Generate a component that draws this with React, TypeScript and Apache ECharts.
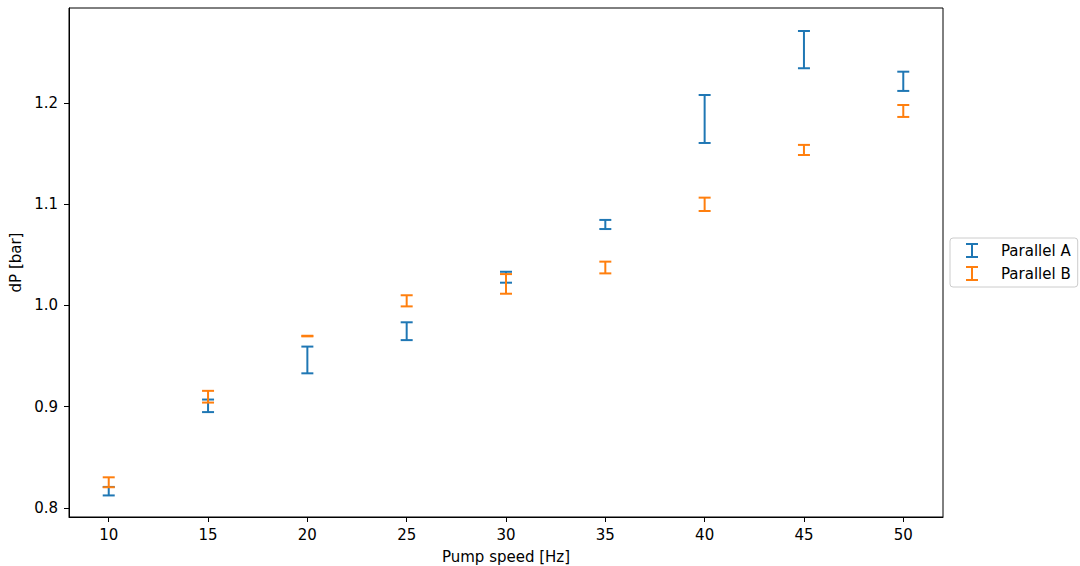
import React, { useEffect, useRef } from "react";
import * as echarts from "echarts";

// Pump speed settings [Hz]
const speeds = [10, 15, 20, 25, 30, 35, 40, 45, 50];

// Mean pressure drop [bar] and half-width of the error bar for each run
const parallelAMean = [0.8166, 0.9009, 0.9462, 0.9746, 1.0279, 1.08, 1.1842, 1.2527, 1.2214];
const parallelAErr = [0.0042, 0.0062, 0.0132, 0.0088, 0.0054, 0.0045, 0.0237, 0.0184, 0.0095];

const parallelBMean = [0.8254, 0.9099, 0.9698, 1.0046, 1.0213, 1.0375, 1.0999, 1.1536, 1.1921];
const parallelBErr = [0.0049, 0.0058, 0.0003, 0.0055, 0.0097, 0.0058, 0.0066, 0.005, 0.0059];

const xTicks = [10, 15, 20, 25, 30, 35, 40, 45, 50];
const yTicks = [0.8, 0.9, 1.0, 1.1, 1.2];

const BLUE = "#1f77b4";
const ORANGE = "#ff7f0e";
const FONT = "DejaVu Sans";
const FONT_SIZE = 15;
const CAP = 6;

const errorIcon = "path://M0,0H12V2H7V13H12V15H0V13H5V2H0Z";

function errorSeries(name: string, color: string, means: number[], errs: number[]) {
  return {
    type: "custom",
    name,
    itemStyle: { color },
    encode: { x: 0, y: 1 },
    data: speeds.map((s, i) => [s, means[i], errs[i]]),
    renderItem: (_params: any, api: any) => {
      const x = api.value(0);
      const y = api.value(1);
      const e = api.value(2);
      const top = api.coord([x, y + e]);
      const bot = api.coord([x, y - e]);
      const style = { stroke: color, lineWidth: 2, fill: "none" };
      return {
        type: "group",
        children: [
          { type: "line", shape: { x1: top[0], y1: top[1], x2: bot[0], y2: bot[1] }, style },
          { type: "line", shape: { x1: top[0] - CAP, y1: top[1], x2: top[0] + CAP, y2: top[1] }, style },
          { type: "line", shape: { x1: bot[0] - CAP, y1: bot[1], x2: bot[0] + CAP, y2: bot[1] }, style },
        ],
      };
    },
  };
}

export default function App() {
  const ref = useRef<HTMLDivElement>(null);

  useEffect(() => {
    if (!ref.current) return;
    const chart = echarts.init(ref.current, undefined, { renderer: "svg" });
    const axisText = { color: "#000", fontFamily: FONT, fontSize: FONT_SIZE };
    chart.setOption({
      animation: false,
      backgroundColor: "#fff",
      textStyle: { fontFamily: FONT },
      grid: {
        left: 69,
        top: 8,
        width: 874,
        height: 509,
        outerBoundsMode: "none",
        containLabel: false,
        show: true,
        borderColor: "#000",
        borderWidth: 1,
        backgroundColor: "transparent",
      },
      legend: {
        orient: "vertical",
        left: 950,
        top: 238,
        padding: [5, 7, 6, 16],
        itemWidth: 12,
        itemHeight: 15,
        itemGap: 8,
        borderColor: "#cccccc",
        borderWidth: 1,
        borderRadius: 3,
        backgroundColor: "rgba(255,255,255,0.8)",
        textStyle: { color: "#000", fontFamily: FONT, fontSize: FONT_SIZE, lineHeight: 15, padding: [0, 0, 0, 18] },
        data: [
          { name: "Parallel A", icon: errorIcon },
          { name: "Parallel B", icon: errorIcon },
        ],
      },
      xAxis: {
        type: "value",
        min: 8,
        max: 52,
        name: "Pump speed [Hz]",
        nameLocation: "middle",
        nameGap: 32,
        nameTextStyle: axisText,
        splitLine: { show: false },
        axisLine: { show: true, lineStyle: { color: "#000", width: 1 } },
        axisTick: { show: true, length: 5, lineStyle: { color: "#000", width: 1 }, customValues: xTicks },
        axisLabel: { ...axisText, margin: 10, customValues: xTicks },
      },
      yAxis: {
        type: "value",
        min: 0.7911,
        max: 1.2938,
        name: "dP [bar]",
        nameLocation: "middle",
        nameGap: 43,
        nameTextStyle: axisText,
        splitLine: { show: false },
        axisLine: { show: true, lineStyle: { color: "#000", width: 1 } },
        axisTick: { show: true, length: 5, lineStyle: { color: "#000", width: 1 }, customValues: yTicks },
        axisLabel: {
          ...axisText,
          margin: 11,
          customValues: yTicks,
          formatter: (v: number) => v.toFixed(1),
        },
      },
      series: [
        errorSeries("Parallel A", BLUE, parallelAMean, parallelAErr),
        errorSeries("Parallel B", ORANGE, parallelBMean, parallelBErr),
      ],
    });
    return () => chart.dispose();
  }, []);

  return (
    <div
      ref={ref}
      style={{ position: "absolute", left: 0, top: 0, width: 1080, height: 566, background: "#fff" }}
    />
  );
}
